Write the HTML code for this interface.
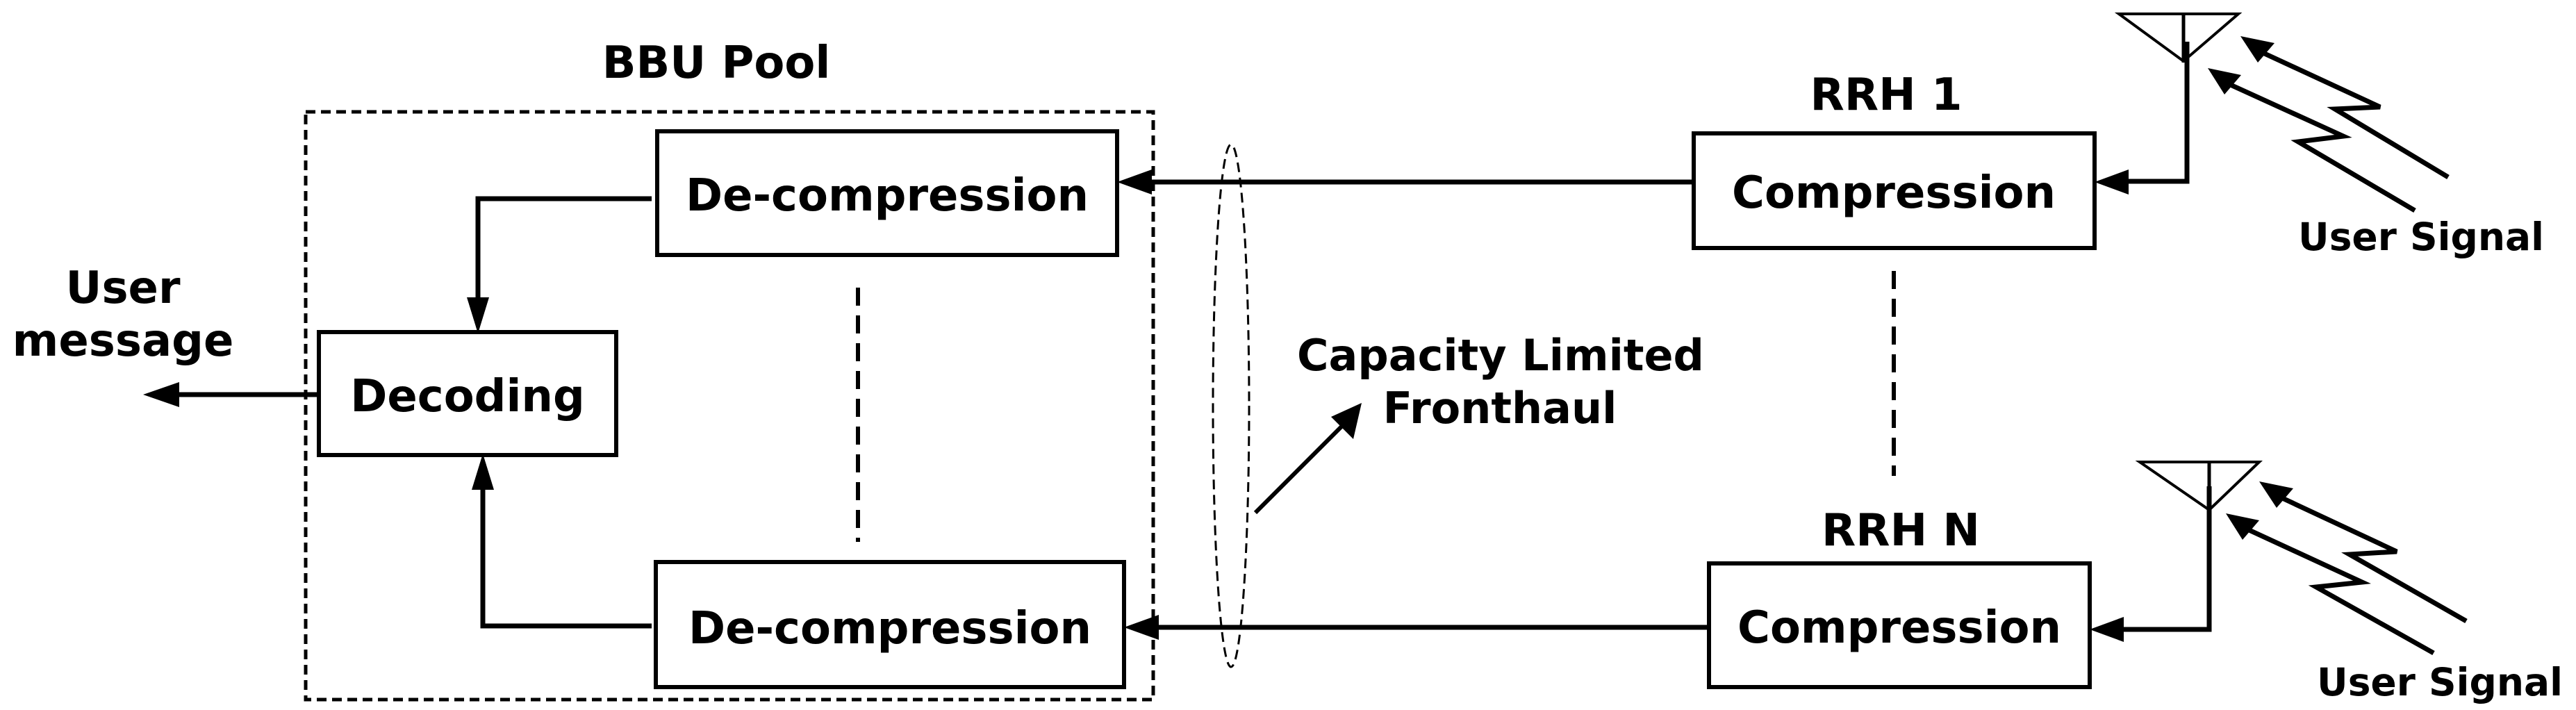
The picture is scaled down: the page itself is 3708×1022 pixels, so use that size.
<!DOCTYPE html>
<html><head><style>
html,body{margin:0;padding:0;background:#fff;}
svg{display:block;}
text{font-family:"DejaVu Sans","Liberation Sans",sans-serif;font-weight:bold;fill:#000;}
</style></head><body>
<svg width="3708" height="1022" viewBox="0 0 3708 1022" xmlns="http://www.w3.org/2000/svg">
<g fill="none" stroke="#000">
<rect x="440" y="161" width="1220" height="846" stroke-width="5" stroke-dasharray="14 8"/>
<rect x="946" y="189" width="662" height="178" stroke-width="6"/>
<rect x="459" y="478" width="428" height="177" stroke-width="6"/>
<rect x="944" y="809" width="674" height="180" stroke-width="6"/>
<rect x="2438" y="192" width="577" height="165" stroke-width="6"/>
<rect x="2460" y="811" width="548" height="178" stroke-width="6"/>
<polyline points="938,286 688,286 688,440" stroke-width="7"/>
<polyline points="938,901 695,901 695,700" stroke-width="7"/>
<line x1="459" y1="568" x2="250" y2="568" stroke-width="7"/>
<line x1="2438" y1="262" x2="1650" y2="262" stroke-width="7"/>
<line x1="2460" y1="903" x2="1660" y2="903" stroke-width="7"/>
<line x1="1807" y1="738" x2="1935" y2="610" stroke-width="6"/>
<line x1="1235" y1="414" x2="1235" y2="780" stroke-width="6" stroke-dasharray="26 14"/>
<line x1="2726" y1="390" x2="2726" y2="685" stroke-width="6" stroke-dasharray="26 14"/>
<ellipse cx="1772" cy="584" rx="26" ry="376" stroke-width="3" stroke-dasharray="14 8"/>
<polygon points="3050,20 3222,20 3143,88" stroke-width="4"/>
<line x1="3143" y1="20" x2="3143" y2="90" stroke-width="5"/>
<polyline points="3148,60 3148,261 3060,261" stroke-width="7"/>
<polyline points="3240,68 3426,154 3361,157 3524,255" stroke-width="7"/>
<polyline points="3193,114 3373,196 3308,204 3476,303" stroke-width="7"/>
<polygon points="3080,665 3252,665 3180,734" stroke-width="4"/>
<line x1="3180" y1="665" x2="3180" y2="736" stroke-width="5"/>
<polyline points="3180,700 3180,906 3050,906" stroke-width="7"/>
<polyline points="3266,708 3450,794 3382,798 3550,894" stroke-width="7"/>
<polyline points="3218,754 3400,838 3334,845 3503,940" stroke-width="7"/>
</g>
<g fill="#000">
<polygon points="688,480 672,428 704,428"/>
<polygon points="695,653 679,705 711,705"/>
<polygon points="206,568 258,550 258,586"/>
<polygon points="1608,262 1658,244 1658,280"/>
<polygon points="1618,903 1668,885 1668,921"/>
<polygon points="3015,262 3064,244 3064,280"/>
<polygon points="3008,906 3057,888 3057,924"/>
<polygon points="1960,580 1948,632 1916,600"/>
<polygon points="3225,52 3274,62 3250,90"/>
<polygon points="3178,98 3226,108 3202,136"/>
<polygon points="3252,693 3301,703 3277,731"/>
<polygon points="3204,739 3252,749 3228,777"/>
</g>
<g font-size="64" text-anchor="middle">
<text x="1031" y="112">BBU Pool</text>
<text x="1277" y="303">De-compression</text>
<text x="673" y="592">Decoding</text>
<text x="1281" y="926">De-compression</text>
<text x="2726" y="299">Compression</text>
<text x="2734" y="925">Compression</text>
<text x="2715" y="158">RRH 1</text>
<text x="2736" y="785">RRH N</text>
<text x="177" y="436">User</text>
<text x="177" y="512">message</text>
</g>
<g font-size="62" text-anchor="middle">
<text x="2160" y="533">Capacity Limited</text>
<text x="2159" y="609">Fronthaul</text>
</g>
<g font-size="55" text-anchor="middle">
<text x="3485" y="360">User Signal</text>
<text x="3512" y="1001">User Signal</text>
</g>
</svg>
</body></html>
